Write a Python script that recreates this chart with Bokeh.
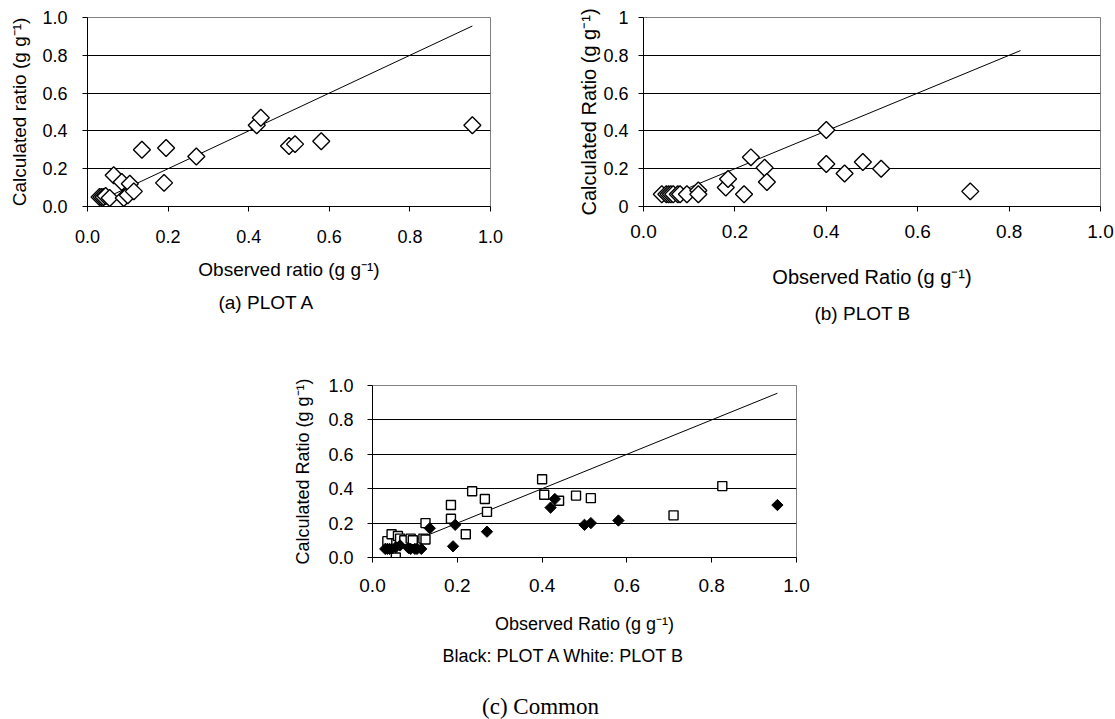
from math import pi
from bokeh.plotting import figure
from bokeh.models import FixedTicker, Range1d, PrintfTickFormatter
from bokeh.core.properties import value
from bokeh.layouts import column, row
from bokeh.embed import file_html
from bokeh.resources import INLINE

# ---------------- data ----------------
# (a) PLOT A
a_obs = [0.03, 0.035, 0.04, 0.045, 0.055, 0.065, 0.085, 0.09, 0.10, 0.105, 0.115,
         0.135, 0.19, 0.195, 0.27, 0.42, 0.43, 0.50, 0.515, 0.58, 0.955]
a_calc = [0.05, 0.05, 0.05, 0.055, 0.045, 0.165, 0.13, 0.045, 0.06, 0.12, 0.08,
          0.30, 0.125, 0.31, 0.265, 0.43, 0.47, 0.32, 0.33, 0.345, 0.43]
a_line = [0.04, 0.955]

# (b) PLOT B
b_obs = [0.04, 0.05, 0.055, 0.06, 0.065, 0.075, 0.08, 0.095, 0.12, 0.12, 0.18,
         0.185, 0.22, 0.235, 0.265, 0.27, 0.40, 0.40, 0.44, 0.48, 0.52, 0.715]
b_calc = [0.065, 0.065, 0.065, 0.065, 0.065, 0.065, 0.065, 0.065, 0.085, 0.065, 0.10,
          0.145, 0.065, 0.26, 0.205, 0.13, 0.405, 0.225, 0.175, 0.235, 0.20, 0.08]
b_line = [0.10, 0.825]

# (c) Common - black: PLOT A, white: PLOT B
ca_obs = [0.03, 0.035, 0.04, 0.045, 0.055, 0.065, 0.085, 0.09, 0.10, 0.105, 0.115,
          0.135, 0.19, 0.195, 0.27, 0.42, 0.43, 0.50, 0.515, 0.58, 0.955]
ca_calc = [0.05, 0.05, 0.05, 0.05, 0.06, 0.07, 0.055, 0.05, 0.05, 0.05, 0.05,
           0.17, 0.065, 0.19, 0.15, 0.29, 0.34, 0.19, 0.20, 0.215, 0.305]
cb_obs = [0.035, 0.045, 0.055, 0.06, 0.065, 0.075, 0.09, 0.095, 0.12, 0.125, 0.125,
          0.185, 0.185, 0.22, 0.235, 0.265, 0.27, 0.40, 0.405, 0.44, 0.48, 0.515, 0.71, 0.825]
cb_calc = [0.095, 0.135, 0.0, 0.125, 0.11, 0.10, 0.11, 0.10, 0.11, 0.105, 0.20,
           0.305, 0.225, 0.135, 0.385, 0.34, 0.265, 0.455, 0.365, 0.33, 0.36, 0.345, 0.245, 0.415]
c_line = [0.04, 0.955]

ticks = [0, 0.2, 0.4, 0.6, 0.8, 1]
grid_ticks = [0.2, 0.4, 0.6, 0.8]
b_y_overrides = {0: "0", 1: "1"}

captions_top = ["(a) PLOT A", "(b) PLOT B"]
caption_legend = ["Black: PLOT A  White: PLOT B"]
caption_common = ["(c) Common"]

SANS = "Liberation Sans"
SERIF = "Liberation Serif"
W = 1115


def make_fig(width, height, left, right, top, bottom):
    p = figure(width=width, height=height,
               x_range=Range1d(0, 1), y_range=Range1d(0, 1),
               output_backend="svg", toolbar_location=None,
               min_border_left=left, min_border_right=right,
               min_border_top=top, min_border_bottom=bottom)
    p.frame_align = False
    p.background_fill_color = "white"
    p.border_fill_color = "white"
    p.outline_line_color = "#808080"
    p.outline_line_width = 1
    p.xgrid.visible = False
    p.ygrid.ticker = FixedTicker(ticks=grid_ticks)
    p.ygrid.grid_line_color = "black"
    p.ygrid.grid_line_width = 1
    for ax in (p.xaxis[0], p.yaxis[0]):
        ax.ticker = FixedTicker(ticks=ticks)
        ax.formatter = PrintfTickFormatter(format="%.1f")
        ax.axis_line_color = "black"
        ax.major_tick_line_color = "black"
        ax.major_tick_out = 5
        ax.major_tick_in = 0
        ax.minor_tick_out = 0
        ax.minor_tick_in = 0
        ax.major_label_text_font = SANS
        ax.major_label_text_color = "black"
        ax.axis_label_text_font = SANS
        ax.axis_label_text_font_style = "normal"
        ax.axis_label_text_color = "black"
    return p


def text_strip(height):
    s = figure(width=W, height=height, x_range=Range1d(0, W), y_range=Range1d(height, 0),
               x_axis_type=None, y_axis_type=None, output_backend="svg",
               toolbar_location=None, min_border=0)
    s.frame_align = False
    s.outline_line_color = None
    s.background_fill_color = "white"
    s.border_fill_color = "white"
    s.grid.visible = False
    return s


# ---------- (a) PLOT A ----------
pA = make_fig(555, 290, 87, 65, 17, 84)
pA.line(a_line, a_line, line_color="black", line_width=1)
pA.scatter(a_obs, a_calc, marker="square", angle=pi / 4, size=12,
           fill_color="white", line_color="black", line_width=1.4)
pA.xaxis.axis_label = "Observed ratio (g g⁻¹)"
pA.yaxis.axis_label = "Calculated ratio (g g⁻¹)"
pA.xaxis.major_label_text_font_size = "18px"
pA.yaxis.major_label_text_font_size = "18px"
pA.xaxis.axis_label_text_font_size = "19px"
pA.yaxis.axis_label_text_font_size = "19px"
pA.xaxis.major_label_standoff = 18
pA.xaxis.axis_label_standoff = 13
pA.yaxis.major_label_standoff = 15
pA.yaxis.axis_label_standoff = 9

# ---------- (b) PLOT B ----------
pB = make_fig(560, 290, 88, 15, 17, 81)
pB.line(b_line, b_line, line_color="black", line_width=1)
pB.scatter(b_obs, b_calc, marker="square", angle=pi / 4, size=12,
           fill_color="white", line_color="black", line_width=1.4)
pB.yaxis.major_label_overrides = b_y_overrides
pB.xaxis.axis_label = "Observed Ratio (g g⁻¹)"
pB.yaxis.axis_label = "Calculated Ratio (g g⁻¹)"
pB.xaxis.major_label_text_font_size = "19px"
pB.yaxis.major_label_text_font_size = "18px"
pB.xaxis.axis_label_text_font_size = "20px"
pB.yaxis.axis_label_text_font_size = "20px"
pB.xaxis.major_label_standoff = 13
pB.xaxis.axis_label_standoff = 25
pB.yaxis.major_label_standoff = 10
pB.yaxis.axis_label_standoff = 0

# ---------- captions (a), (b) ----------
t1 = text_strip(48)
t1.text(x=[266, 862], y=[12, 23], text=captions_top, text_align="center",
        text_baseline="middle", text_font=value(SANS), text_font_size=value("19px"),
        text_color="black")

# ---------- (c) Common ----------
pC = make_fig(W, 298, 372, 319, 47, 79)
pC.line(c_line, c_line, line_color="black", line_width=1)
pC.scatter(cb_obs, cb_calc, marker="square", size=9,
           fill_color="white", line_color="black", line_width=1.4)
pC.scatter(ca_obs, ca_calc, marker="square", angle=pi / 4, size=8,
           fill_color="black", line_color="black", line_width=1)
pC.xaxis.axis_label = "Observed Ratio (g g⁻¹)"
pC.yaxis.axis_label = "Calculated Ratio (g g⁻¹)"
pC.xaxis.major_label_text_font_size = "19px"
pC.yaxis.major_label_text_font_size = "18px"
pC.xaxis.axis_label_text_font_size = "18px"
pC.yaxis.axis_label_text_font_size = "18px"
pC.xaxis.major_label_standoff = 16
pC.xaxis.axis_label_standoff = 19
pC.yaxis.major_label_standoff = 14
pC.yaxis.axis_label_standoff = 12

# ---------- captions (c) ----------
t2 = text_strip(83)
t2.text(x=[566], y=[19], text=caption_legend, text_align="center",
        text_baseline="middle", text_font=value(SANS), text_font_size=value("18px"),
        text_color="black")
t2.text(x=[540], y=[70], text=caption_common, text_align="center",
        text_baseline="middle", text_font=value(SERIF), text_font_size=value("23px"),
        text_color="black")

layout = column(row(pA, pB), t1, pC, t2)
open("out.html", "w").write(file_html(layout, INLINE))
